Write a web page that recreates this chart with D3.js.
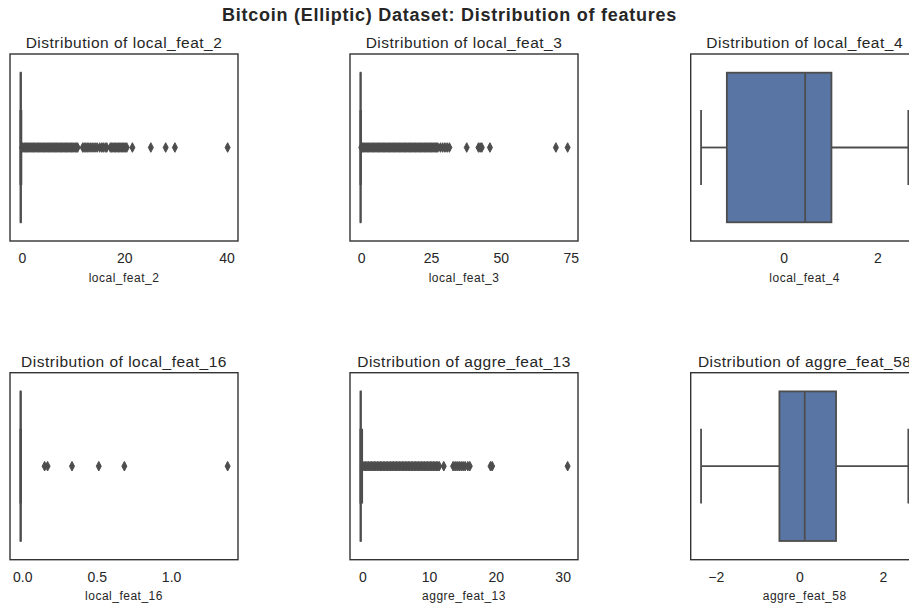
<!DOCTYPE html>
<html>
<head>
<meta charset="utf-8">
<script src="https://cdn.jsdelivr.net/npm/d3@7"></script>
<style>
  html, body { margin: 0; padding: 0; background: #ffffff; }
  svg { display: block; font-family: "Liberation Sans", Arial, sans-serif; }
</style>
</head>
<body>
<svg id="chart" width="909" height="608"></svg>
<script>
// Features shown, in grid order (3 columns x 2 rows)
const features = ["local_feat_2", "local_feat_3", "local_feat_4",
                  "local_feat_16", "aggre_feat_13", "aggre_feat_58"];

// Box statistics per feature
const whiskerLow  = [-0.28, -0.25, -1.76, -0.013, -0.29, -2.35];
const quartile1   = [-0.24, -0.20, -1.21, -0.012, -0.26, -0.475];
const medians     = [-0.21, -0.17,  0.46, -0.011, -0.24,  0.13];
const quartile3   = [-0.17, -0.14,  1.02, -0.010, -0.22,  0.88];
const whiskerHigh = [-0.08, -0.05,  2.66, -0.009, -0.02,  2.61];

// Outlier values per feature
const outliersLocal2 = [
  0.04, 0.21, 0.47, 0.68, 0.93, 1.12, 1.38, 1.61, 1.84, 2.09, 2.33, 2.52, 2.79, 3.02,
  3.26, 3.51, 3.73, 3.98, 4.2, 4.44, 4.71, 4.93, 5.17, 5.4, 5.66, 5.88, 6.12, 6.35,
  6.61, 6.83, 7.07, 7.3, 7.56, 7.79, 8.02, 8.27, 8.5, 8.76, 8.98, 9.23, 9.47, 9.71,
  9.95, 10.2, 10.46, 10.72, 10.9,
  11.9, 12.2, 12.5, 12.8, 13.1, 13.5, 13.9, 14.3, 14.7, 15.2, 15.6, 15.9, 16.3, 16.6,
  17.3, 17.55, 17.8, 18.1, 18.35, 18.6, 18.9, 19.15, 19.4, 19.7, 19.95, 20.2, 20.5,
  21.6, 25.2, 28.1, 29.9, 40.2
];
const outliersLocal3 = [
  0.08, 0.5, 0.93, 1.38, 1.8, 2.26, 2.71, 3.15, 3.6, 4.02, 4.47, 4.9, 5.36, 5.8,
  6.23, 6.69, 7.12, 7.57, 8.01, 8.44, 8.9, 9.33, 9.78, 10.21, 10.66, 11.1, 11.54,
  11.98, 12.43, 12.87, 13.3, 13.76, 14.2, 14.63, 15.08, 15.52, 15.97, 16.4, 16.85,
  17.29, 17.73, 18.18, 18.61, 19.06, 19.5, 19.93, 20.4, 20.83, 21.27, 21.71, 22.16,
  22.6, 23.03, 23.48, 23.92, 24.36, 24.8, 25.25, 25.69, 26.13, 26.57, 27.02, 27.45,
  28.4, 29.2, 30.0, 30.8, 31.6,
  37.8, 42.0, 42.6, 43.2, 46.1, 69.7, 73.9
];
const outliersLocal4 = [];
const outliersLocal16 = [0.15, 0.17, 0.334, 0.514, 0.686, 1.38];
const outliersAggre13 = [
  0.06, 0.27, 0.5, 0.71, 0.93, 1.16, 1.37, 1.6, 1.82, 2.03, 2.26, 2.48, 2.7, 2.92,
  3.14, 3.36, 3.58, 3.8, 4.02, 4.25, 4.46, 4.68, 4.91, 5.12, 5.35, 5.57, 5.78, 6.01,
  6.23, 6.45, 6.67, 6.89, 7.11, 7.33, 7.55, 7.77, 7.99, 8.21, 8.44, 8.65, 8.88, 9.1,
  9.31, 9.54, 9.76, 9.98, 10.2, 10.42, 10.64, 10.86, 11.08, 11.3, 11.52,
  12.2, 13.6, 13.9, 14.2, 14.5, 14.8, 15.1, 15.4, 15.8, 16.1, 19.2, 19.45, 30.75
];
const outliersAggre58 = [];
const outliers = [outliersLocal2, outliersLocal3, outliersLocal4,
                  outliersLocal16, outliersAggre13, outliersAggre58];

// Tick values and labels per feature
const tickValues = [[0, 20, 40], [0, 25, 50, 75], [0, 2],
                    [0, 0.5, 1.0], [0, 10, 20, 30], [-2, 0, 2]];
const tickLabels = [["0", "20", "40"], ["0", "25", "50", "75"], ["0", "2"],
                    ["0.0", "0.5", "1.0"], ["0", "10", "20", "30"], ["\u22122", "0", "2"]];

const titleText = "Bitcoin (Elliptic) Dataset: Distribution of features";

// Grid geometry
const colLeft = [10, 350, 690.7];
const rowTop = [54, 372.7];
const panelW = 228, panelH = 187;

const textColor = "#262626";
const lineGray = "#4d4d4d";
const boxFill = "#5975a4";

const svg = d3.select("#chart");

svg.append("text")
  .attr("x", 449.5).attr("y", 21)
  .attr("text-anchor", "middle")
  .attr("font-size", 18).attr("font-weight", "bold")
  .attr("letter-spacing", 0.75)
  .attr("fill", textColor)
  .text(titleText);

const diamond = (w, h) => `M0,${-h}L${w},0L0,${h}L${-w},0Z`;

features.forEach((name, i) => {
  const col = i % 3, row = Math.floor(i / 3);
  const left = colLeft[col], top = rowTop[row];

  const lo = Math.min(whiskerLow[i], ...outliers[i]);
  const hi = Math.max(whiskerHigh[i], ...outliers[i]);
  const pad = (hi - lo) * 0.05;
  const x = d3.scaleLinear().domain([lo - pad, hi + pad]).range([left, left + panelW]);
  const y = d3.scaleLinear().domain([-0.5, 0.5]).range([top, top + panelH]);

  const g = svg.append("g");

  // subplot title
  g.append("text")
    .attr("x", left + panelW / 2).attr("y", top - 6.2)
    .attr("text-anchor", "middle")
    .attr("font-size", 15.5).attr("letter-spacing", 0.5)
    .attr("fill", textColor)
    .text("Distribution of " + name);

  // whiskers
  g.append("line")
    .attr("x1", x(whiskerLow[i])).attr("x2", x(quartile1[i]))
    .attr("y1", y(0)).attr("y2", y(0))
    .attr("stroke", lineGray).attr("stroke-width", 1.8);
  g.append("line")
    .attr("x1", x(quartile3[i])).attr("x2", x(whiskerHigh[i]))
    .attr("y1", y(0)).attr("y2", y(0))
    .attr("stroke", lineGray).attr("stroke-width", 1.8);
  [whiskerLow[i], whiskerHigh[i]].forEach(v => {
    g.append("line")
      .attr("x1", x(v)).attr("x2", x(v))
      .attr("y1", y(-0.2)).attr("y2", y(0.2))
      .attr("stroke", lineGray).attr("stroke-width", 1.8);
  });

  // box
  g.append("rect")
    .attr("x", x(quartile1[i])).attr("y", y(-0.4))
    .attr("width", Math.max(0, x(quartile3[i]) - x(quartile1[i])))
    .attr("height", y(0.4) - y(-0.4))
    .attr("fill", boxFill).attr("stroke", lineGray).attr("stroke-width", 1.8);
  g.append("line")
    .attr("x1", x(medians[i])).attr("x2", x(medians[i]))
    .attr("y1", y(-0.4)).attr("y2", y(0.4))
    .attr("stroke", lineGray).attr("stroke-width", 1.8);

  // outliers
  g.selectAll("path.flier").data(outliers[i]).enter().append("path")
    .attr("class", "flier")
    .attr("d", diamond(2.5, 4.8))
    .attr("transform", d => `translate(${x(d)},${y(0)})`)
    .attr("fill", lineGray).attr("stroke", lineGray).attr("stroke-width", 1);

  // frame
  g.append("rect")
    .attr("x", left).attr("y", top).attr("width", panelW).attr("height", panelH)
    .attr("fill", "none").attr("stroke", "#333333").attr("stroke-width", 1.4);

  // x axis
  const ticks = tickValues[i], labels = tickLabels[i];
  const axis = d3.axisBottom(x)
    .tickValues(ticks)
    .tickFormat((d, k) => labels[k])
    .tickSize(0).tickPadding(0);
  const ax = g.append("g")
    .attr("transform", `translate(0,${top + panelH})`)
    .call(axis);
  ax.select(".domain").remove();
  ax.selectAll("text")
    .attr("y", 22.3).attr("dy", null)
    .attr("font-size", 14).attr("font-family", "Liberation Sans, Arial, sans-serif")
    .attr("fill", textColor);

  g.append("text")
    .attr("x", left + panelW / 2).attr("y", top + panelH + 40.5)
    .attr("text-anchor", "middle")
    .attr("font-size", 12).attr("letter-spacing", 0.5)
    .attr("fill", textColor)
    .text(name);
});
</script>
</body>
</html>
